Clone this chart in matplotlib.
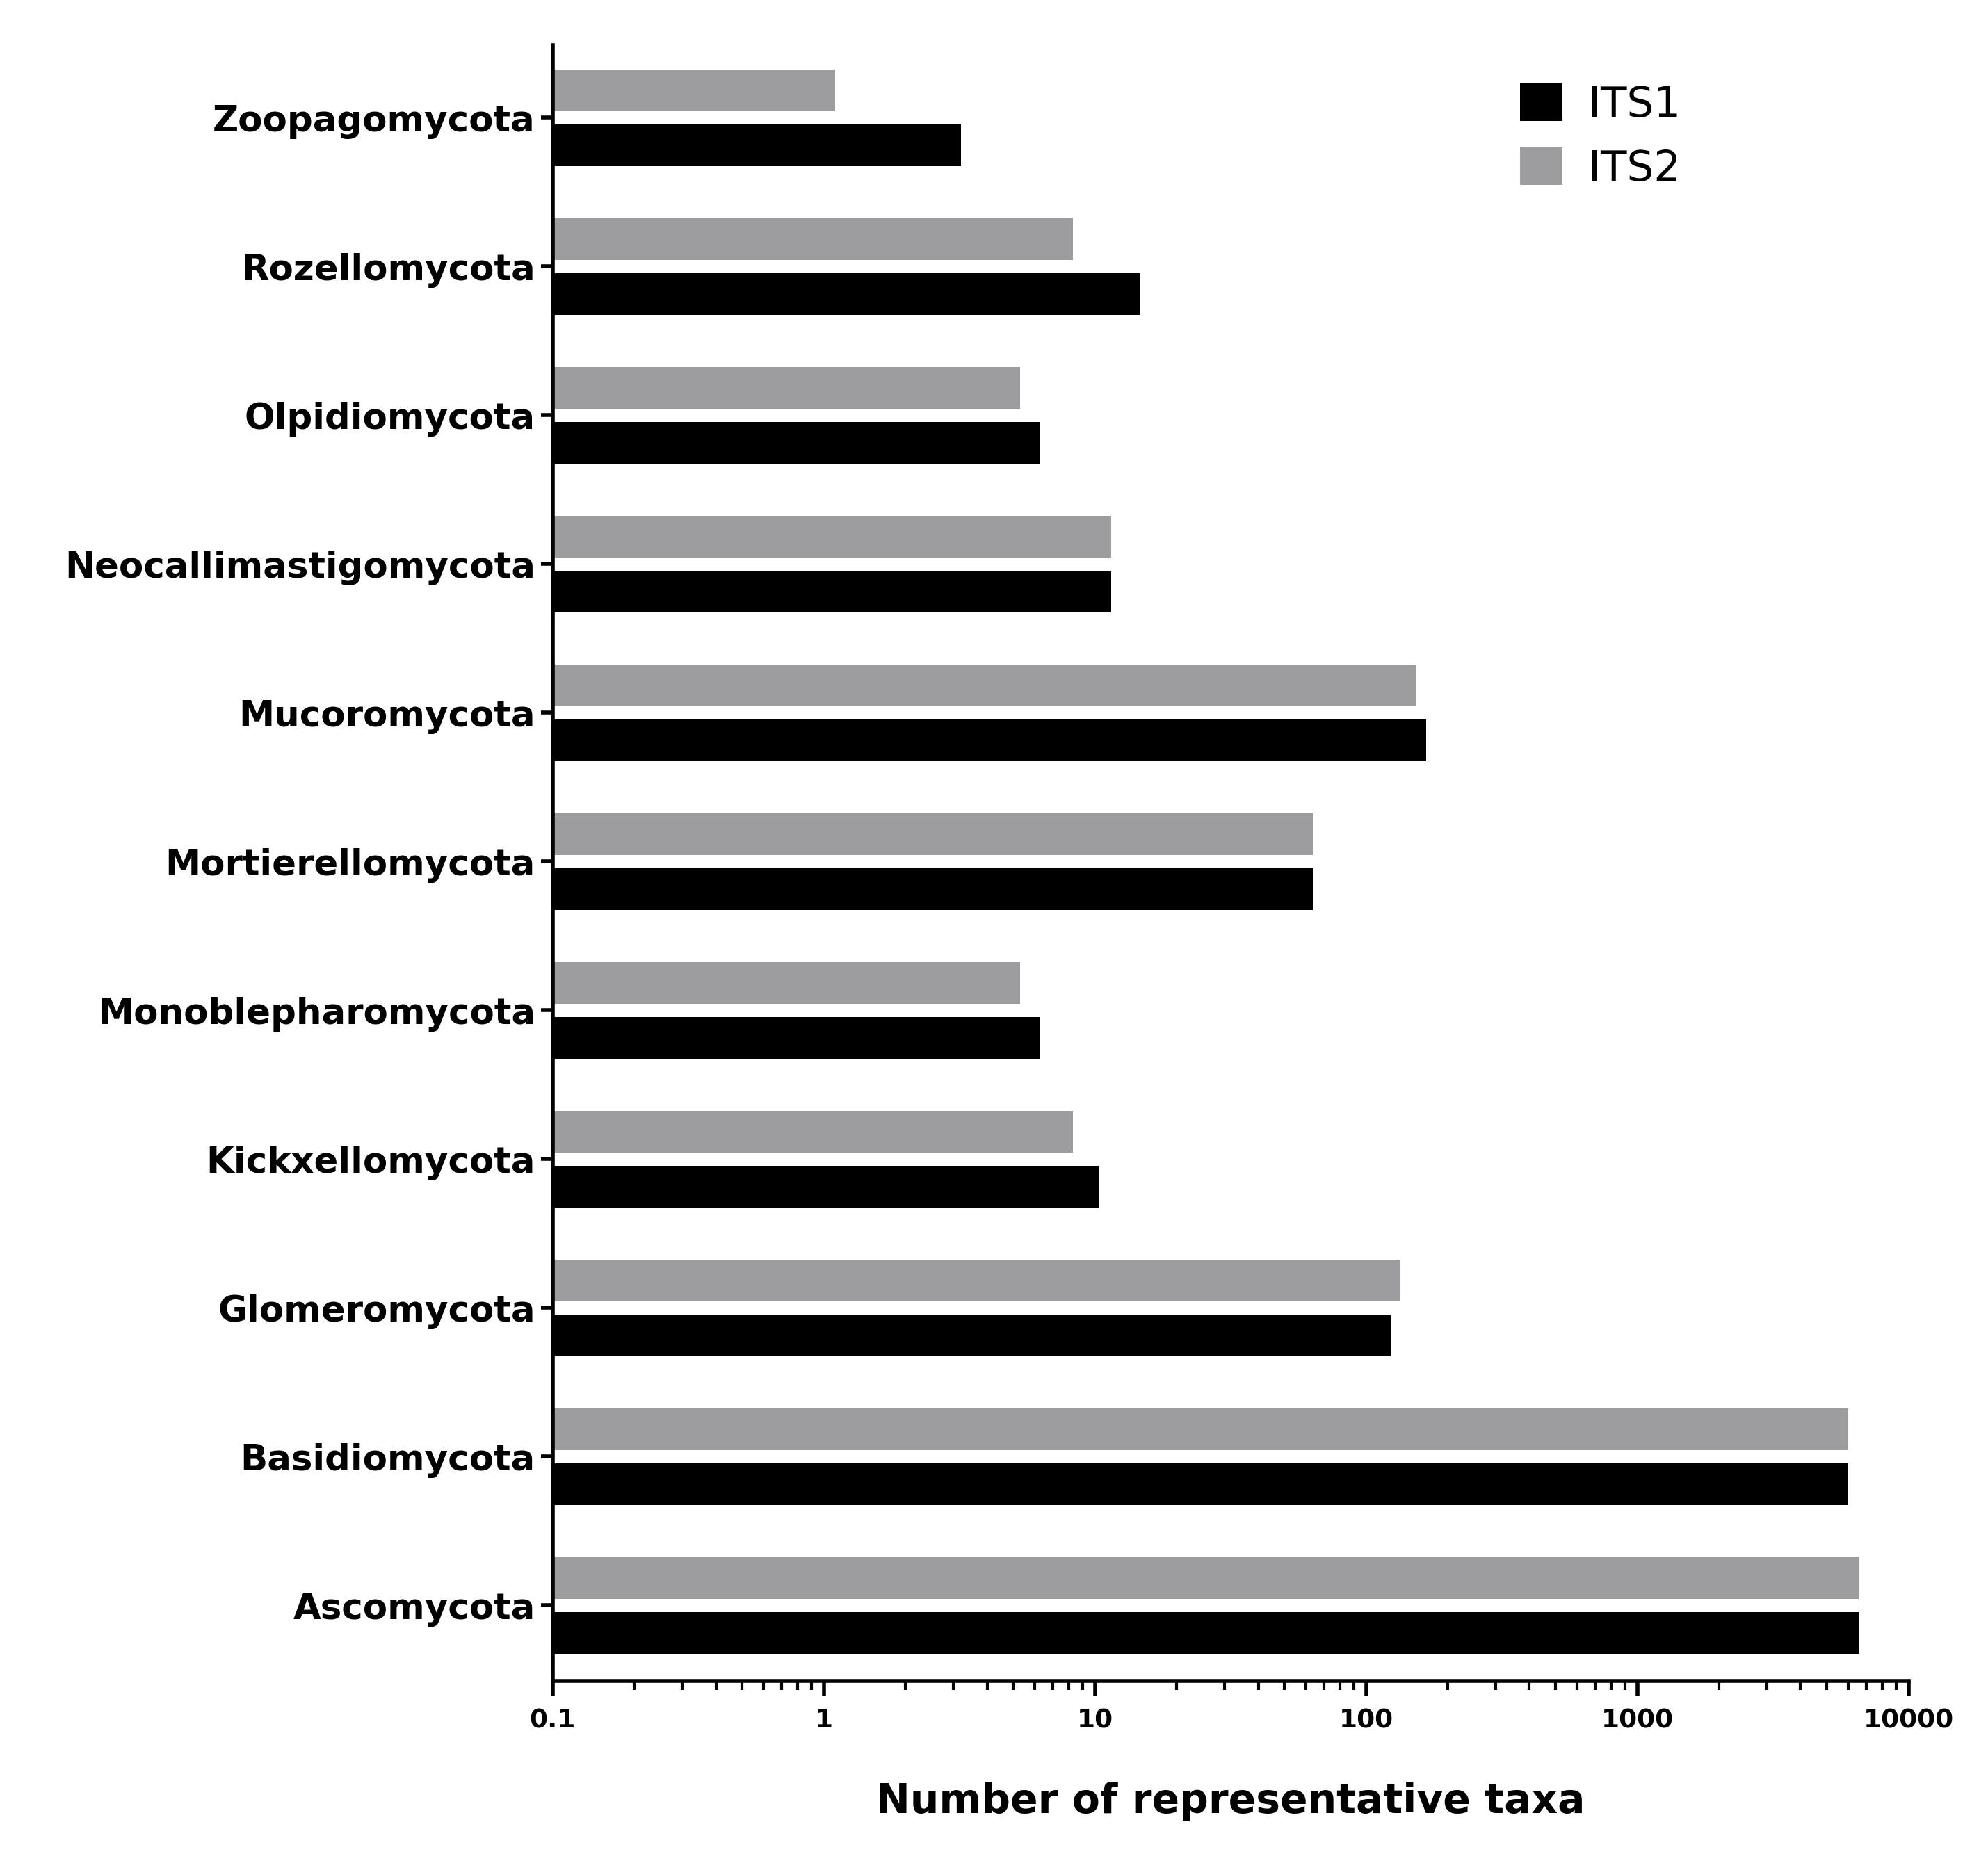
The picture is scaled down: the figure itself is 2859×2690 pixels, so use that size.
import matplotlib
matplotlib.use("Agg")
import matplotlib.pyplot as plt
import numpy as np
from matplotlib.ticker import LogLocator, FixedLocator, NullFormatter

categories = ["Zoopagomycota", "Rozellomycota", "Olpidiomycota", "Neocallimastigomycota",
              "Mucoromycota", "Mortierellomycota", "Monoblepharomycota", "Kickxellomycota",
              "Glomeromycota", "Basidiomycota", "Ascomycota"]
its1 = [3.1, 14.6, 6.2, 11.4, 166, 63.5, 6.2, 10.3, 123, 6000, 6600]
its2 = [1.0, 8.2, 5.2, 11.4, 152, 63.5, 5.2, 8.2, 134, 6000, 6600]
xticks = [0.1, 1, 10, 100, 1000, 10000]
xticklabels = ["0.1", "1", "10", "100", "1000", "10000"]

fig = plt.figure(figsize=(28.59, 26.90), dpi=100)
ax = fig.add_axes([0.278, 0.101, 0.682, 0.875])
y = np.arange(len(categories))
h = 0.28
ax.barh(y + 0.185, its1, height=h, left=0.1, color="black", label="ITS1")
ax.barh(y - 0.185, its2, height=h, left=0.1, color="#9d9d9f", label="ITS2")
ax.set_xscale("log")
ax.set_xlim(0.1, 10000)
ax.set_ylim(len(categories) - 0.49, -0.49)
ax.set_yticks(y)
ax.set_yticklabels(categories, fontsize=37, fontweight="bold")
ax.xaxis.set_major_locator(FixedLocator(xticks))
ax.set_xticklabels(xticklabels, fontsize=27, fontweight="bold")
ax.xaxis.set_minor_locator(LogLocator(base=10, subs=np.arange(2, 10)))
ax.xaxis.set_minor_formatter(NullFormatter())
ax.tick_params(axis="x", which="major", length=16, width=4, pad=12)
ax.tick_params(axis="x", which="minor", length=9, width=3)
ax.tick_params(axis="y", length=12, width=4, pad=6)
for s in ["top", "right"]:
    ax.spines[s].set_visible(False)
for s in ["left", "bottom"]:
    ax.spines[s].set_linewidth(4)
ax.set_xlabel("Number of representative taxa", fontsize=42, fontweight="bold", labelpad=50)
leg = ax.legend(loc="upper right", bbox_to_anchor=(0.86, 1.0), fontsize=44, frameon=False,
                handlelength=1.0, handleheight=1.0, handletextpad=0.6, labelspacing=0.5)
fig.savefig("out.png", dpi=100)
